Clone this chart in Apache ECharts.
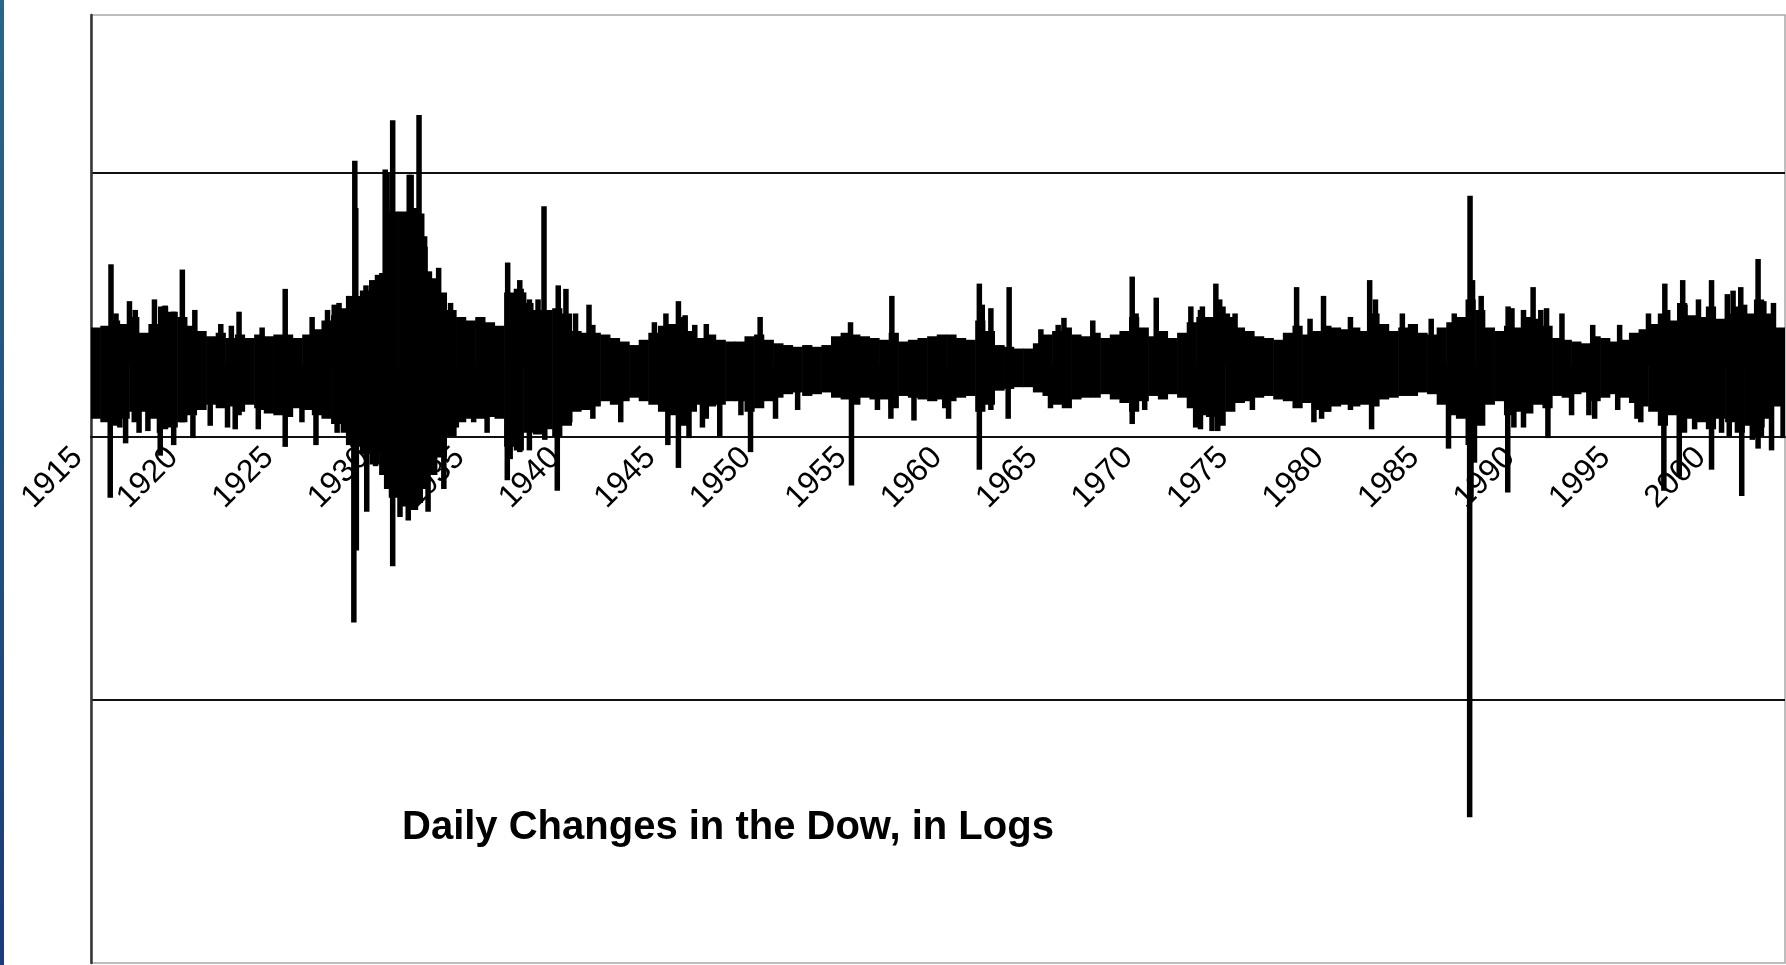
<!DOCTYPE html>
<html>
<head>
<meta charset="utf-8">
<script src="https://cdn.jsdelivr.net/npm/echarts@6/dist/echarts.min.js"></script>
<style>
html,body{margin:0;padding:0;background:#fff;}
#chart{width:1786px;height:965px;}
</style>
</head>
<body>
<div id="chart"></div>
<script>
// ---- data (daily log changes of the Dow, x100) ----
const titleText = 'Daily Changes in the Dow, in Logs';
const tickLabels = ['1915','1920','1925','1930','1935','1940','1945','1950','1955','1960','1965','1970','1975','1980','1985','1990','1995','2000'];

// core band of everyday moves: segment start year, typical upper / lower edge
const bandStart = [1916.1,1916.6,1917.1,1917.6,1918.1,1918.6,1919.1,1919.6,1920.1,1920.6,1921.1,1921.6,1922.1,1922.6,1923.1,1923.6,1924.1,1924.6,1925.1,1925.6,1926.1,1926.6,1927.1,1927.6,1928.1,1928.6,1929.1,1929.6,1930.1,1930.6,1931.1,1931.35,1931.6,1932.1,1932.6,1933.1,1933.35,1933.6,1934.1,1934.6,1935.1,1935.6,1936.1,1936.6,1937.1,1937.6,1938.1,1938.6,1939.1,1939.6,1940.1,1940.6,1941.1,1941.6,1942.1,1942.6,1943.1,1943.6,1944.1,1944.6,1945.1,1945.6,1946.1,1946.6,1947.1,1947.6,1948.1,1948.6,1949.1,1949.6,1950.1,1950.6,1951.1,1951.6,1952.1,1952.6,1953.1,1953.6,1954.1,1954.6,1955.1,1955.6,1956.1,1956.6,1957.1,1957.6,1958.1,1958.6,1959.1,1959.6,1960.1,1960.6,1961.1,1961.6,1962.1,1962.6,1963.1,1963.6,1964.1,1964.6,1965.1,1965.6,1966.1,1966.6,1967.1,1967.6,1968.1,1968.6,1969.1,1969.6,1970.1,1970.6,1971.1,1971.6,1972.1,1972.6,1973.1,1973.6,1974.1,1974.6,1975.1,1975.6,1976.1,1976.6,1977.1,1977.6,1978.1,1978.6,1979.1,1979.6,1980.1,1980.6,1981.1,1981.6,1982.1,1982.6,1983.1,1983.6,1984.1,1984.6,1985.1,1985.6,1986.1,1986.6,1987.1,1987.6,1988.1,1988.6,1989.1,1989.6,1990.1,1990.6,1991.1,1991.6,1992.1,1992.6,1993.1,1993.6,1994.1,1994.6,1995.1,1995.6,1996.1,1996.6,1997.1,1997.6,1998.1,1998.6,1999.1,1999.6,2000.1,2000.6,2001.1,2001.6,2002.1,2002.6,2003.1,2003.6];
const bandHigh = [2.2,2.3,2.6,2.4,2.8,1.9,2.4,3.4,3.1,2.8,2.3,2.0,1.7,1.9,1.6,1.8,1.6,1.8,1.7,1.8,1.8,1.6,1.8,2.1,2.6,2.9,3.3,4.0,4.3,4.8,5.3,9.5,8.8,8.8,9.0,8.3,6.8,5.0,4.2,3.2,2.8,2.6,2.8,2.5,2.3,4.2,4.4,3.6,3.2,3.2,3.3,3.0,2.0,1.9,1.9,1.8,1.6,1.4,1.2,1.5,1.9,2.3,2.4,2.8,2.0,1.6,1.8,1.5,1.4,1.4,1.7,1.8,1.5,1.3,1.2,1.1,1.2,1.1,1.2,1.7,1.9,1.8,1.7,1.6,1.5,1.9,1.4,1.5,1.6,1.7,1.8,1.8,1.6,1.5,2.6,2.0,1.2,1.1,1.0,1.0,1.3,1.8,2.0,2.2,1.8,1.7,1.9,1.6,1.8,2.0,2.8,2.2,1.7,2.0,1.6,1.9,2.5,2.8,2.8,3.4,2.8,2.2,2.0,1.7,1.6,1.5,1.9,2.3,1.8,2.0,2.3,2.2,2.1,2.2,2.0,3.0,2.4,2.0,2.2,2.4,1.9,1.8,2.2,2.5,2.8,3.8,3.2,2.2,2.0,2.3,2.2,2.8,2.7,2.3,1.6,1.5,1.4,1.3,1.7,1.6,1.4,1.5,1.9,2.1,2.4,3.0,2.6,3.6,2.9,2.8,3.4,2.7,3.0,3.4,3.0,3.8,3.0,2.2];
const bandLow = [-3.0,-3.2,-3.4,-3.0,-2.6,-2.6,-3.0,-3.6,-3.5,-3.2,-2.8,-2.5,-2.2,-2.4,-2.3,-2.6,-2.2,-2.4,-2.7,-2.8,-2.9,-2.4,-2.5,-2.8,-3.0,-3.3,-3.8,-4.6,-5.0,-5.6,-6.2,-7.0,-7.5,-8.0,-8.2,-7.8,-7.0,-6.2,-5.2,-4.0,-3.2,-3.0,-3.0,-2.9,-3.0,-4.6,-4.8,-3.8,-3.9,-3.6,-4.0,-3.4,-2.6,-2.5,-2.3,-2.0,-2.2,-2.0,-1.8,-2.0,-2.2,-2.6,-2.8,-3.4,-2.6,-2.2,-2.3,-2.2,-2.0,-2.0,-2.6,-2.4,-2.0,-1.8,-1.6,-1.5,-1.7,-1.6,-1.5,-1.8,-1.9,-2.2,-1.8,-1.9,-1.9,-2.4,-1.7,-1.8,-1.9,-2.0,-1.9,-2.0,-1.8,-1.7,-2.6,-2.2,-1.4,-1.3,-1.2,-1.2,-1.5,-1.7,-2.2,-2.4,-1.9,-1.8,-1.8,-1.6,-1.9,-2.1,-2.6,-2.0,-1.7,-1.9,-1.6,-1.8,-2.4,-2.8,-2.9,-3.4,-2.6,-2.1,-2.0,-1.8,-1.7,-1.9,-2.0,-2.4,-2.1,-2.5,-2.6,-2.3,-2.2,-2.3,-2.2,-2.3,-1.9,-1.8,-1.7,-1.7,-1.5,-1.6,-2.2,-2.8,-3.0,-4.5,-3.4,-2.2,-2.0,-2.8,-2.6,-2.7,-2.2,-2.4,-1.7,-1.8,-1.6,-1.5,-2.0,-1.8,-1.6,-1.8,-2.1,-2.3,-2.6,-3.4,-2.8,-3.8,-3.0,-3.2,-3.6,-3.0,-3.2,-3.8,-3.4,-4.0,-3.0,-2.3];
const bandEndYear = 2004.2;

// single big days standing out of the band
const spikeYears = [1917.14,1917.4,1918.1,1918.4,1919.4,1919.9,1920.4,1920.85,1921.5,1922.85,1923.4,1923.8,1925.0,1926.2,1927.6,1928.4,1928.75,1929.0,1929.5,1929.82,1929.87,1930.4,1930.7,1931.0,1931.4,1931.5,1931.79,1932.65,1932.75,1933.16,1933.3,1933.45,1933.7,1937.77,1938.4,1938.6,1939.35,1939.66,1940.4,1940.8,1942.0,1946.65,1947.0,1948.1,1950.9,1955.6,1957.75,1962.3,1962.45,1963.85,1965.5,1966.7,1968.2,1970.25,1970.45,1971.5,1973.3,1973.9,1974.6,1974.8,1975.6,1978.8,1980.2,1982.6,1982.9,1987.0,1987.82,1987.95,1988.4,1989.8,1991.1,1991.5,1997.95,1998.1,1998.88,1999.0,2000.38,2001.5,2001.9,2002.1,2002.8,2003.1,
  1917.1,1917.9,1918.6,1919.7,1920.4,1921.4,1922.3,1923.6,1924.8,1926.2,1927.8,1928.9,1929.5,1929.77,1929.9,1930.44,1930.9,1931.1,1931.5,1931.79,1932.17,1932.6,1932.9,1933.63,1934.45,1937.75,1937.9,1938.4,1939.7,1940.35,1946.1,1946.65,1947.2,1948.1,1948.8,1950.4,1951.7,1955.65,1957.7,1958.9,1960.7,1962.3,1963.8,1966.0,1970.25,1973.8,1974.7,1979.7,1980.1,1982.7,1986.7,1987.8,1987.87,1988.05,1989.78,1990.1,1990.6,1991.87,1994.0,1996.5,1997.9,1998.7,1999.5,2000.38,2000.9,2001.3,2001.95,2002.5,2002.8,2003.0];
const spikeValues = [5.8,3.0,3.7,3.2,3.8,3.4,3.1,5.5,3.2,2.4,2.3,3.1,2.2,4.4,2.8,3.2,3.5,3.6,4.0,11.7,9.0,4.6,4.9,5.2,11.2,11.0,14.0,10.9,10.9,14.3,8.7,7.4,5.4,5.9,4.9,4.2,3.8,9.1,4.6,4.4,3.5,3.7,2.9,2.4,2.8,2.5,4.0,4.7,3.5,4.5,2.1,2.75,2.6,5.1,3.0,3.9,3.4,3.4,4.7,3.8,3.0,4.5,4.0,4.9,3.8,3.0,9.7,4.9,4.0,3.4,4.5,3.2,4.7,3.2,4.9,3.5,4.9,4.3,4.5,3.5,6.1,3.7,
  -7.5,-4.4,-3.8,-5.1,-4.5,-4.1,-3.4,-3.6,-3.6,-4.6,-4.5,-3.8,-4.5,-14.6,-10.5,-8.3,-5.7,-4.9,-6.5,-11.4,-8.6,-8.8,-7.5,-8.3,-7.0,-6.5,-5.3,-4.9,-4.2,-7.1,-4.5,-5.8,-4.1,-3.0,-4.0,-4.9,-3.0,-6.8,-3.0,-3.1,-3.0,-5.9,-3.0,-2.4,-3.3,-3.6,-3.7,-3.2,-3.0,-3.6,-4.7,-25.7,-7.6,-5.5,-7.2,-3.5,-3.5,-4.1,-2.8,-3.0,-7.1,-6.3,-3.6,-5.9,-3.8,-4.0,-7.4,-4.2,-4.7,-3.5];

// smaller days that make the ragged edge of the band
const minorYears = [1919.96,1930.9,1934.18,1934.8,1936.25,1938.9,1941.3,1942.2,1945.4,1946.0,1947.5,1962.9,1966.4,1973.8,1975.2,1979.5,1981.6,1984.3,1985.8,1987.3,1990.0,1990.6,1991.8,1992.6,1994.2,1995.6,1997.1,1999.7,2001.2,2003.6,
  1917.6,1918.35,1919.06,1919.66,1920.85,1923.2,1923.8,1925.0,1927.07,1935.1,1936.0,1936.7,1938.9,1941.0,1942.2,1943.65,1947.9,1949.9,1952.85,1957.0,1960.5,1962.9,1970.9,1973.55,1974.4,1976.5,1980.4,1981.6,1993.1,1994.3,1995.5,1996.7,2003.5,2004.1];
const minorValues = [3.45,4.9,5.6,3.6,2.7,3.8,3.0,2.35,2.5,3.0,2.35,3.3,2.35,3.2,3.0,2.7,2.8,3.0,2.7,2.7,3.3,3.2,3.3,3.0,2.35,2.35,3.0,3.8,4.1,3.6,
  -3.5,-3.2,-3.7,-3.8,-3.2,-3.5,-2.8,-2.5,-3.2,-3.5,-3.2,-3.8,-4.8,-3.2,-3.0,-3.2,-3.5,-2.8,-2.5,-2.5,-2.4,-2.5,-2.5,-3.5,-3.7,-2.5,-2.6,-2.5,-2.8,-3.0,-2.5,-3.2,-4.8,-4.1];

// ---- build series data from the arrays ----
const bandData = bandStart.map((s, i) => [s, i + 1 < bandStart.length ? bandStart[i + 1] : bandEndYear, bandHigh[i], bandLow[i]]);
const spikeData = spikeYears.map((y, i) => [y, spikeValues[i]])
  .concat(minorYears.map((y, i) => [y, minorValues[i]]));

function spikeItem(params, api) {
  const a = api.coord([api.value(0), 0]);
  const b = api.coord([api.value(0), api.value(1)]);
  const w = 5.5;
  return {type: 'rect', shape: {x: a[0] - w / 2, y: Math.min(a[1], b[1]), width: w, height: Math.abs(b[1] - a[1])}, style: {fill: '#000'}};
}

const chart = echarts.init(document.getElementById('chart'), null, {renderer: 'canvas'});
const option = {
  backgroundColor: '#ffffff',
  animation: false,
  grid: {left: 91, top: 15, right: 1, bottom: 2, show: true, containLabel: false, outerBoundsMode: 'none',
         borderColor: '#a8a8a8', borderWidth: 1.5, backgroundColor: 'transparent'},
  xAxis: [
    {type: 'value', min: 1916.1, max: bandEndYear, show: false, position: 'top', axisLine: {onZero: false}},
    {type: 'value', min: 0, max: 17.74, interval: 1, position: 'bottom', offset: -526.7,
     axisLine: {show: true, onZero: false, lineStyle: {color: '#111', width: 2}},
     axisTick: {show: false}, splitLine: {show: false},
     axisLabel: {show: true, rotate: 45, margin: 3, padding: [0, 19, 0, 0], color: '#000', fontSize: 32,
       fontFamily: 'Liberation Sans, Arial, sans-serif', showMinLabel: true, showMaxLabel: true, hideOverlap: false,
       formatter: function (v) { return (Math.abs(v - Math.round(v)) < 1e-6 && tickLabels[Math.round(v)]) ? tickLabels[Math.round(v)] : ''; }}}
  ],
  yAxis: [
    {type: 'value', min: -34, max: 20, show: false, position: 'right', axisLine: {onZero: false}},
    {type: 'value', min: -2, max: 1.6, interval: 1, position: 'left',
     axisLine: {show: true, onZero: false, lineStyle: {color: '#333', width: 2.5}},
     axisTick: {show: false}, axisLabel: {show: false},
     splitLine: {show: true, showMinLine: false, showMaxLine: false, lineStyle: {color: '#111', width: 2}}}
  ],
  series: [
    {type: 'custom', xAxisIndex: 0, yAxisIndex: 0, silent: true, clip: true,
     data: bandData,
     renderItem: function (params, api) {
       const p0 = api.coord([api.value(0), api.value(2)]);
       const p1 = api.coord([api.value(1), api.value(3)]);
       return {type: 'rect', shape: {x: p0[0] - 0.3, y: p0[1], width: p1[0] - p0[0] + 0.6, height: p1[1] - p0[1]}, style: {fill: '#000'}};
     }},
    {type: 'custom', xAxisIndex: 0, yAxisIndex: 0, silent: true, clip: true,
     data: spikeData, renderItem: spikeItem}
  ],
  graphic: [
    {type: 'rect', left: 0, top: 0, shape: {width: 4, height: 965}, silent: true,
     style: {fill: new echarts.graphic.LinearGradient(0, 0, 0, 1, [{offset: 0, color: '#2b6685'}, {offset: 1, color: '#1b3b7b'}])}},
    {type: 'text', left: 402, top: 808, silent: true,
     style: {text: titleText, fill: '#000', font: 'bold 40px "Liberation Sans", Arial, sans-serif'}}
  ]
};
chart.setOption(option);
</script>
</body>
</html>
